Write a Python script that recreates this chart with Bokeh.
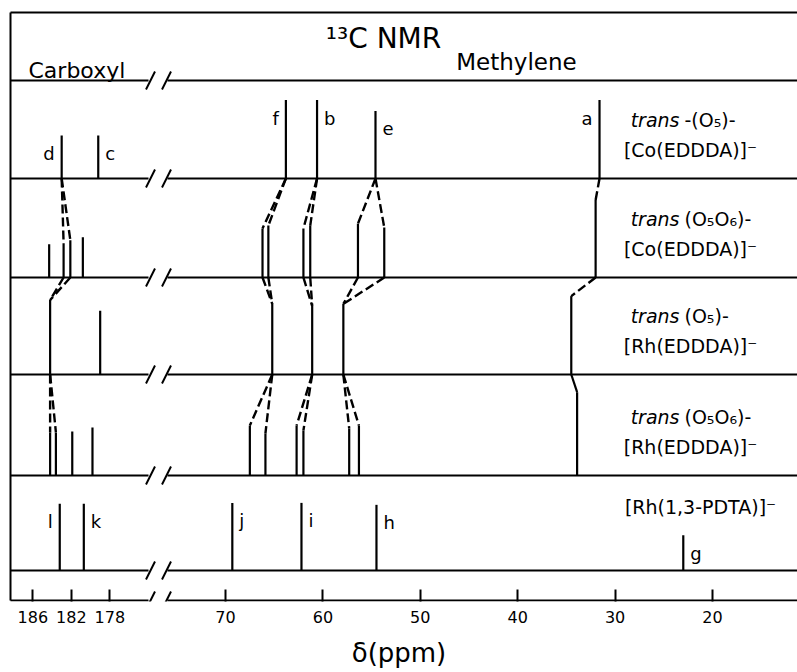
from bokeh.plotting import figure
from bokeh.models import Range1d, LinearAxis, FixedTicker
from bokeh.core.properties import value
from bokeh.embed import file_html
from bokeh.resources import INLINE

# ---------------- data ----------------
# compounds, top to bottom
compound_prefix = ["trans", "trans", "trans", "trans", ""]
compound_ligand = ["-(O₅)-", "(O₅O₆)-", "(O₅)-", "(O₅O₆)-", ""]
compound_ion = ["[Co(EDDDA)]⁻", "[Co(EDDDA)]⁻", "[Rh(EDDDA)]⁻", "[Rh(EDDDA)]⁻", "[Rh(1,3-PDTA)]⁻"]

# carboxyl carbons: chemical shift (ppm) and stick height (% of row)
carb_ppm = [[183.0, 179.2],
            [184.3, 182.8, 182.1, 180.8],
            [184.2, 179.0],
            [184.2, 183.6, 181.9, 179.8],
            [183.2, 180.7]]
carb_h = [[44, 44],
          [34, 35, 38, 41],
          [76, 65],
          [44, 44, 45, 49],
          [68, 68]]
carb_lab = [["d", "c"], ["", "", "", ""], ["", ""], ["", "", "", ""], ["l", "k"]]
carb_side = [["L", "R"], ["", "", "", ""], ["", ""], ["", "", "", ""], ["L", "R"]]

# methylene carbons
meth_ppm = [[63.8, 60.6, 54.6, 31.6],
            [66.2, 65.6, 62.0, 61.3, 56.4, 53.7, 32.0],
            [65.2, 61.1, 57.9, 34.5],
            [67.5, 65.9, 62.7, 62.0, 57.3, 56.3, 33.9],
            [69.3, 62.2, 54.5, 23.0]]
meth_h = [[80, 80, 69, 80],
          [50, 53, 50, 53, 55, 51, 79],
          [72, 70, 72, 80],
          [51, 43, 51, 46, 48, 51, 85],
          [69, 69, 67, 36]]
meth_lab = [["f", "b", "e", "a"], [""] * 7, [""] * 4, [""] * 7, ["j", "i", "h", "g"]]
meth_side = [["L", "R", "R", "L"], [""] * 7, [""] * 4, [""] * 7, ["R", "R", "R", "R"]]

# correlations between rows: (from row, region, from peak, to peak, dashed)
links = [(0, "C", 0, 1, True), (0, "C", 0, 2, True),
         (1, "C", 1, 0, True), (1, "C", 2, 0, True),
         (2, "C", 0, 0, True), (2, "C", 0, 1, True),
         (0, "M", 0, 0, True), (0, "M", 0, 1, True), (0, "M", 1, 2, True), (0, "M", 1, 3, True),
         (0, "M", 2, 4, True), (0, "M", 2, 5, True), (0, "M", 3, 6, True),
         (1, "M", 0, 0, True), (1, "M", 1, 0, True), (1, "M", 2, 1, True), (1, "M", 3, 1, True),
         (1, "M", 4, 2, True), (1, "M", 5, 2, True), (1, "M", 6, 3, True),
         (2, "M", 0, 0, True), (2, "M", 0, 1, True), (2, "M", 1, 2, True), (2, "M", 1, 3, True),
         (2, "M", 2, 4, True), (2, "M", 2, 5, True), (2, "M", 3, 6, False)]

carb_ticks = [186, 182, 178]
meth_ticks = [70, 60, 50, 40, 30, 20]

# ---------------- layout helpers ----------------
PPM_PX = 9.74            # methylene scale, px per ppm
def px_x(px):            # page x -> axis coordinate (methylene ppm)
    return 70 + (225 - px) / PPM_PX
def px_y(py):            # page y -> row coordinate
    return (570 - py) / 98.0

CARB_X0 = px_x(32.3)     # where 186 ppm sits on the shared axis
CARB_SCALE = 9.625 / PPM_PX
def X_c(d):
    return CARB_X0 - (186 - d) * CARB_SCALE
def X_m(d):
    return float(d)

row_base = [px_y(v) for v in (178, 277, 374, 475, 570)]
header_y = px_y(80)
axis_y = px_y(600)
top_y = px_y(12)
X_L = px_x(10)
X_R = px_x(797)

FONT = "DejaVu Sans"

p = figure(width=797, height=672,
           x_range=Range1d(px_x(0), px_x(797)), y_range=Range1d(px_y(601), px_y(0)),
           x_axis_type=None, y_axis_type=None, toolbar_location=None, output_backend="svg",
           min_border_left=0, min_border_right=0, min_border_top=0, min_border_bottom=71)
p.outline_line_color = None
p.background_fill_color = "white"
p.border_fill_color = "white"

# ---------------- sticks ----------------
peaks = {}
sx, sy0, sy1 = [], [], []
lx, ly, lt, lal = [], [], [], []
for r in range(5):
    base = row_base[r]
    for reg, pp, hh, ll, ss, fn in (("C", carb_ppm[r], carb_h[r], carb_lab[r], carb_side[r], X_c),
                                    ("M", meth_ppm[r], meth_h[r], meth_lab[r], meth_side[r], X_m)):
        for i, (d, h) in enumerate(zip(pp, hh)):
            X = fn(d)
            top = base + h / 100.0
            peaks[(r, reg, i)] = (X, base, top)
            sx.append(X); sy0.append(base); sy1.append(top)
            if ll[i]:
                gap = 7 / PPM_PX
                lx.append(X + gap if ss[i] == "L" else X - gap)
                ly.append(top - 18 / 98.0)
                lt.append(ll[i])
                lal.append("right" if ss[i] == "L" else "left")

p.segment(x0=sx, y0=sy0, x1=sx, y1=sy1, line_color="black", line_width=2.2)

# ---------------- correlation lines ----------------
dx0, dy0, dx1, dy1 = [], [], [], []
cx0, cy0, cx1, cy1 = [], [], [], []
for (r, reg, i, j, dashed) in links:
    X0, b0, _ = peaks[(r, reg, i)]
    X1, _, t1 = peaks[(r + 1, reg, j)]
    if dashed:
        dx0.append(X0); dy0.append(b0); dx1.append(X1); dy1.append(t1)
    else:
        cx0.append(X0); cy0.append(b0); cx1.append(X1); cy1.append(t1)
p.segment(x0=dx0, y0=dy0, x1=dx1, y1=dy1, line_color="black", line_width=2.4, line_dash="9 4")
p.segment(x0=cx0, y0=cy0, x1=cx1, y1=cy1, line_color="black", line_width=2.2)

# ---------------- frame, baselines with axis breaks ----------------
BRK_A = px_x(148)
BRK_B = px_x(167)
hx0, hy0, hx1, hy1 = [], [], [], []
for yy in [header_y] + row_base + [axis_y]:
    hx0 += [X_L, BRK_B]; hx1 += [BRK_A, X_R]; hy0 += [yy, yy]; hy1 += [yy, yy]
    for c in (150, 166):
        hx0.append(px_x(c - 4.5)); hx1.append(px_x(c + 4.5))
        hy0.append(yy - 9 / 98.0); hy1.append(yy + 9 / 98.0)
hx0 += [X_L, X_L]; hx1 += [X_R, X_L]; hy0 += [top_y, axis_y]; hy1 += [top_y, top_y]
p.segment(x0=hx0, y0=hy0, x1=hx1, y1=hy1, line_color="black", line_width=2)

# ---------------- texts ----------------
p.text(x=lx, y=ly, text=lt, text_align=lal, text_baseline="middle",
       text_font=value(FONT), text_font_size="18px", text_color="black")

anchor_a = px_x(679)
anchor_b = px_x(684)
ion_x = [px_x(690)] * 4 + [px_x(700)]
for r in range(5):
    base = row_base[r]
    if compound_prefix[r]:
        p.text(x=[anchor_a], y=[base + 0.60], text=[compound_prefix[r]], text_align="right",
               text_baseline="middle", text_font=value(FONT), text_font_size="19px",
               text_font_style="italic", text_color="black")
        p.text(x=[anchor_b], y=[base + 0.60], text=[compound_ligand[r]], text_align="left",
               text_baseline="middle", text_font=value(FONT), text_font_size="19px", text_color="black")
        p.text(x=[ion_x[r]], y=[base + 0.29], text=[compound_ion[r]], text_align="center",
               text_baseline="middle", text_font=value(FONT), text_font_size="19px", text_color="black")
    else:
        p.text(x=[ion_x[r]], y=[base + 0.65], text=[compound_ion[r]], text_align="center",
               text_baseline="middle", text_font=value(FONT), text_font_size="19px", text_color="black")

p.text(x=[px_x(383)], y=[px_y(38)], text=["¹³C NMR"], text_align="center", text_baseline="middle",
       text_font=value(FONT), text_font_size="28px", text_color="black")
p.text(x=[px_x(28)], y=[px_y(70)], text=["Carboxyl"], text_align="left", text_baseline="alphabetic",
       text_font=value(FONT), text_font_size="22px", text_color="black")
p.text(x=[px_x(516)], y=[px_y(61)], text=["Methylene"], text_align="center", text_baseline="alphabetic",
       text_font=value(FONT), text_font_size="23px", text_color="black")

# ---------------- axis ----------------
tick_vals = [X_c(t) for t in carb_ticks] + [X_m(t) for t in meth_ticks]
tick_txt = [str(t) for t in carb_ticks] + [str(t) for t in meth_ticks]
ax = LinearAxis(ticker=FixedTicker(ticks=tick_vals),
                major_label_overrides={v: s for v, s in zip(tick_vals, tick_txt)},
                axis_label="δ(ppm)")
ax.axis_line_color = None
ax.major_tick_in = 12
ax.major_tick_out = 0
ax.major_tick_line_width = 2
ax.major_tick_line_color = "black"
ax.minor_tick_line_color = None
ax.major_label_standoff = 9
ax.major_label_text_font = FONT
ax.major_label_text_font_size = "16px"
ax.major_label_text_color = "black"
ax.axis_label_text_font = FONT
ax.axis_label_text_font_size = "26px"
ax.axis_label_text_font_style = "normal"
ax.axis_label_text_color = "black"
ax.axis_label_standoff = 12
p.add_layout(ax, "below")

open("out.html", "w").write(file_html(p, INLINE))
